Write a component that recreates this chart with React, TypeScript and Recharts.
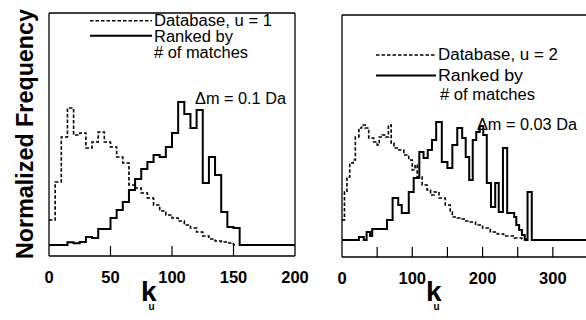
import React from 'react';
import { LineChart, Line, XAxis, YAxis } from 'recharts';

// ---------- Left panel (u = 1, Δm = 0.1 Da) ----------
const leftDbK = [0, 5, 10, 15, 20, 25, 30, 35, 40, 45, 50, 55, 60, 65, 70, 75, 80, 85, 90, 95, 100, 105, 110, 115, 120, 125, 130, 135, 140, 145, 150, 152];
const leftDbV = [25, 63, 108, 137, 110, 112, 97, 103, 113, 103, 98, 88, 82, 60, 57, 52, 47, 40, 34, 30, 27, 24, 20, 17, 13, 9, 6, 4, 3, 2, 0, 0];

const leftRankK = [0, 15, 20, 25, 30, 35, 40, 45, 50, 55, 60, 65, 70, 75, 80, 85, 90, 95, 100, 105, 110, 115, 120, 125, 130, 135, 140, 145, 150, 155, 200];
const leftRankV = [0, 2.7, 1.7, 3, 8, 7, 16, 16, 27, 35, 43, 55, 66, 76, 83, 90, 88, 98, 112, 143, 131, 117, 135, 62, 88, 70, 33, 18, 17, 0, 0];

const leftTicks = [0, 50, 100, 150, 200];
const leftTickLabels = [0, 50, 100, 150, 200];
const leftTickMarks = [50, 100, 150];

// ---------- Right panel (u = 2, Δm = 0.03 Da) ----------
const rightDbK = [0, 3.5, 7, 11, 16, 19, 24, 28, 33, 38, 45, 50, 53, 57, 62, 66, 70, 74, 81, 88, 95, 100, 104, 107, 114, 121, 126, 131, 138, 147, 154, 157, 164, 171, 176, 181, 190, 200, 211, 221, 230, 245, 256, 262];
const rightDbV = [20, 48, 63, 77, 80, 103, 112, 115, 112, 102, 98, 95, 103, 105, 103, 115, 97, 92, 90, 85, 80, 70, 75, 63, 55, 50, 45, 48, 42, 35, 28, 23, 22, 21, 19, 18, 15, 12, 8, 6, 4, 2, 1, 0];

const rightRankK = [0, 24, 31, 35, 40, 43, 64, 72, 80, 85, 95, 102, 110, 116, 122, 128, 134, 142, 150, 157, 164, 171, 176, 181, 186, 191, 196, 201, 206, 212, 218, 223, 229, 235, 245, 248, 252, 256, 260, 264, 270, 350];
const rightRankV = [0, 3, 0, 8, 4, 11, 20, 42, 35, 27, 48, 62, 88, 82, 90, 100, 118, 78, 72, 95, 112, 102, 83, 60, 100, 108, 114, 105, 57, 33, 57, 28, 92, 27, 23, 15, 10, 5, 0, 48, 0, 0];

const rightTicks = [0, 50, 100, 150, 200, 250, 300, 350];
const rightTickLabels = [0, 100, 200, 300];
const rightTickMarks = [50, 100, 150, 200, 250, 300];

const zip = (ks: number[], vs: number[]) => ks.map((k, i) => ({ k, v: vs[i] }));

const FONT = '"Liberation Sans", Arial, Helvetica, sans-serif';

function makeTick(labelled: number[], marked: number[]) {
  return (props: any) => {
    const { x, y, payload } = props;
    const v = payload.value;
    return (
      <g>
        {marked.includes(v) && (
          <line x1={x} x2={x} y1={y} y2={y - 10} stroke="#000" strokeWidth={1.2} />
        )}
        {labelled.includes(v) && (
          <text x={x} y={y + 27} textAnchor="middle" fontFamily={FONT} fontWeight="bold" fontSize={16.5} fill="#000">
            {v}
          </text>
        )}
      </g>
    );
  };
}

function Panel(props: {
  db: { k: number; v: number }[];
  rank: { k: number; v: number }[];
  xMax: number;
  yDomain: [number, number];
  ticks: number[];
  labels: number[];
  marks: number[];
  top: number;
  bottom: number;
  width: number;
  right: number;
}) {
  const { db, rank, xMax, yDomain, ticks, labels, marks, top, bottom, width, right } = props;
  return (
    <LineChart width={width} height={320} margin={{ top: top - 1, right, bottom: bottom - 1, left: 48 }}>
      <XAxis
        type="number"
        dataKey="k"
        domain={[0, xMax]}
        ticks={ticks}
        interval={0}
        allowDataOverflow
        height={1}
        tickSize={0}
        tickMargin={0}
        tickLine={false}
        axisLine={{ stroke: '#000', strokeWidth: 1.3 }}
        tick={makeTick(labels, marks)}
      />
      <XAxis
        xAxisId="top"
        orientation="top"
        type="number"
        domain={[0, 1]}
        height={1}
        tick={false}
        tickLine={false}
        axisLine={{ stroke: '#000', strokeWidth: 1.3 }}
      />
      <YAxis
        type="number"
        domain={yDomain}
        allowDataOverflow
        width={1}
        tick={false}
        tickLine={false}
        axisLine={{ stroke: '#000', strokeWidth: 1.3 }}
      />
      <YAxis
        yAxisId="right"
        orientation="right"
        type="number"
        domain={[0, 1]}
        width={1}
        tick={false}
        tickLine={false}
        axisLine={{ stroke: '#000', strokeWidth: 1.3 }}
      />
      <Line
        data={db}
        dataKey="v"
        type="stepAfter"
        stroke="#000"
        strokeWidth={1.6}
        strokeDasharray="3.5 2"
        dot={false}
        isAnimationActive={false}
      />
      <Line
        data={rank}
        dataKey="v"
        type="stepAfter"
        stroke="#000"
        strokeWidth={2}
        dot={false}
        isAnimationActive={false}
      />
    </LineChart>
  );
}

const legendText = (x: number, y: number, s: string, len: number) => (
  <text x={x} y={y} fontFamily={FONT} fontSize={16} fill="#000" textLength={len} lengthAdjust="spacingAndGlyphs">
    {s}
  </text>
);

const axisTitle = (x: number) => (
  <text x={x} y={301} fontFamily={FONT} fontWeight="bold" fontSize={28} fill="#000">
    k
    <tspan dx={-8} dy={9} fontSize={10}>u</tspan>
  </text>
);

export default function App() {
  return (
    <div style={{ position: 'absolute', left: 0, top: 0, width: 586, height: 320, overflow: 'hidden', background: '#fff' }}>
      <div style={{ position: 'absolute', left: 0, top: 0, width: 330, height: 320 }}>
        <Panel
          db={zip(leftDbK, leftDbV)}
          rank={zip(leftRankK, leftRankV)}
          xMax={200}
          yDomain={[-11, 232]}
          ticks={leftTicks}
          labels={leftTickLabels}
          marks={leftTickMarks}
          top={13}
          bottom={64}
          width={330}
          right={34}
        />
      </div>
      <div style={{ position: 'absolute', left: 293, top: 0, width: 300, height: 320 }}>
        <Panel
          db={zip(rightDbK, rightDbV)}
          rank={zip(rightRankK, rightRankV)}
          xMax={350}
          yDomain={[-17, 225]}
          ticks={rightTicks}
          labels={rightTickLabels}
          marks={rightTickMarks}
          top={15}
          bottom={63}
          width={300}
          right={4}
        />
      </div>
      <svg width={586} height={320} style={{ position: 'absolute', left: 0, top: 0, pointerEvents: 'none' }}>
        <text
          transform="translate(33,134) rotate(-90)"
          textAnchor="middle"
          fontFamily={FONT}
          fontWeight="bold"
          fontSize={24}
          fill="#000"
          textLength={250}
          lengthAdjust="spacingAndGlyphs"
        >
          Normalized Frequency
        </text>

        {/* left legend */}
        <line x1={90} x2={152} y1={20.7} y2={20.7} stroke="#000" strokeWidth={1.6} strokeDasharray="3.5 2" />
        <line x1={90} x2={152} y1={35.7} y2={35.7} stroke="#000" strokeWidth={2} />
        {legendText(154, 26, 'Database, u = 1', 118)}
        {legendText(154, 41.5, 'Ranked by', 79)}
        {legendText(154, 57.5, '# of matches', 94)}
        {legendText(195, 104, 'Δm = 0.1 Da', 91)}

        {/* right legend */}
        <line x1={376} x2={436} y1={55} y2={55} stroke="#000" strokeWidth={1.6} strokeDasharray="3.5 2" />
        <line x1={376} x2={436} y1={75.5} y2={75.5} stroke="#000" strokeWidth={2} />
        {legendText(438, 60, 'Database, u = 2', 120)}
        {legendText(438, 81, 'Ranked by', 85)}
        {legendText(440, 100, '# of matches', 95)}
        {legendText(477, 130, 'Δm = 0.03 Da', 100)}

        {/* x-axis titles */}
        {axisTitle(141)}
        {axisTitle(426)}
      </svg>
    </div>
  );
}
